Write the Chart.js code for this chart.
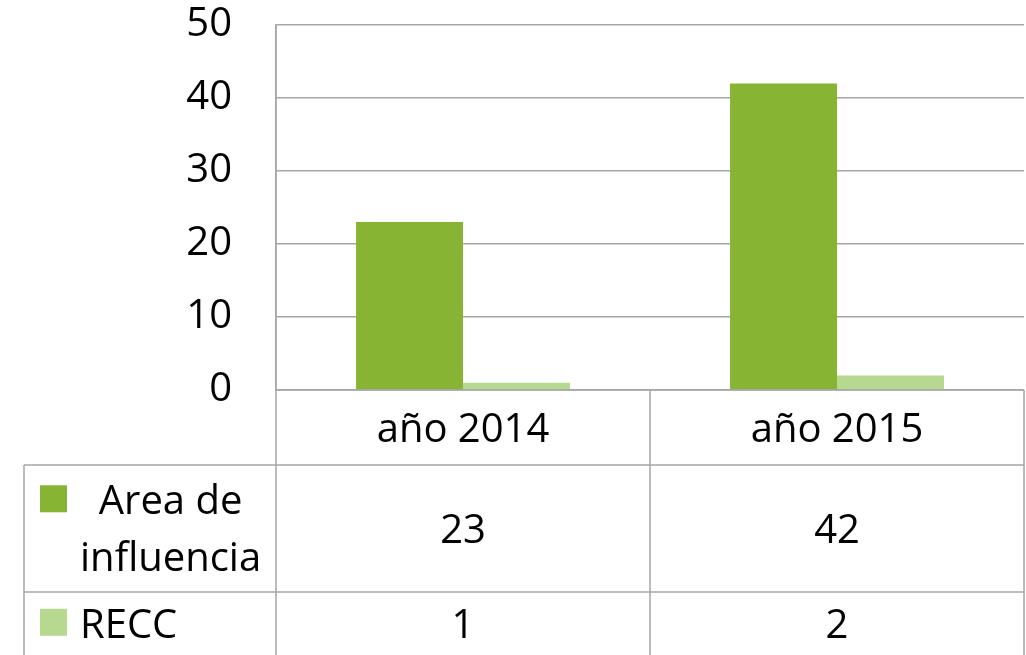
<!DOCTYPE html>
<html><head><meta charset="utf-8">
<script src="https://cdn.jsdelivr.net/npm/chart.js"></script>
<style>html,body{margin:0;padding:0;background:#fff;overflow:hidden}#wrap{width:1026px;height:655px;position:relative}</style>
</head><body><div id="wrap"><canvas id="c" width="1026" height="655"></canvas></div>
<script>
const categories = ['año 2014', 'año 2015'];
const seriesLabels = [['Area de', 'influencia'], ['RECC']];
const areaValues = [23, 42];
const reccValues = [1, 2];
const yMin = 0, yMax = 50, yStep = 10;

const GREEN = '#87b433';
const LIGHT = '#b7d88f';
const GRID = '#a6a6a6';
const FONT = '"Open Sans", "DejaVu Sans", sans-serif';
const FS = 40;

const tablePlugin = {
  id: 'dataTable',
  afterDraw(chart) {
    const ctx = chart.ctx;
    const x = chart.scales.x;
    const area = chart.chartArea;
    const catW = x.getPixelForValue(1) - x.getPixelForValue(0);
    const tLeft = area.left, tRight = area.right;
    const legLeft = 24;
    const rowTops = [area.bottom, 465, 592, 655];
    ctx.save();
    ctx.strokeStyle = GRID;
    ctx.lineWidth = 1.5;
    const line = (x1, y1, x2, y2) => { ctx.beginPath(); ctx.moveTo(x1, y1); ctx.lineTo(x2, y2); ctx.stroke(); };
    line(tLeft, rowTops[0], tRight, rowTops[0]);
    line(legLeft, rowTops[1], tRight, rowTops[1]);
    line(legLeft, rowTops[2], tRight, rowTops[2]);
    line(legLeft, rowTops[1], legLeft, 655);
    line(tLeft, area.top, tLeft, 655);
    categories.forEach((c, i) => {
      const r = x.getPixelForValue(i) + catW / 2;
      line(r, rowTops[0], r, 655);
    });
    ctx.fillStyle = '#000';
    ctx.font = FS + 'px ' + FONT;
    ctx.textBaseline = 'alphabetic';
    const cap = 0.714 * FS;
    const baseOf = (r) => (rowTops[r] + rowTops[r + 1]) / 2 + cap / 2;
    ctx.textAlign = 'center';
    categories.forEach((c, i) => {
      const cx = x.getPixelForValue(i);
      ctx.fillText(c, cx, baseOf(0));
      ctx.fillText(String(areaValues[i]), cx, baseOf(1));
      ctx.fillText(String(reccValues[i]), cx, baseOf(2));
    });
    const colors = [GREEN, LIGHT];
    const lh = 57;
    seriesLabels.forEach((lines, s) => {
      const r = s + 1;
      const n = lines.length;
      const first = baseOf(r) - (n - 1) * lh / 2;
      const widths = lines.map(t => ctx.measureText(t).width);
      const bw = Math.max(...widths);
      const bx = 80;
      ctx.textAlign = 'center';
      lines.forEach((t, k) => ctx.fillText(t, bx + bw / 2, first + k * lh));
      ctx.fillStyle = colors[s];
      ctx.fillRect(40, first - 29, 27, 27);
      ctx.fillStyle = '#000';
    });
    ctx.restore();
  }
};

new Chart(document.getElementById('c'), {
  type: 'bar',
  data: {
    labels: categories,
    datasets: [
      { label: seriesLabels[0].join(' '), data: areaValues, backgroundColor: GREEN, borderWidth: 0 },
      { label: seriesLabels[1].join(' '), data: reccValues, backgroundColor: LIGHT, borderWidth: 0 }
    ]
  },
  options: {
    responsive: false,
    devicePixelRatio: 1,
    animation: false,
    layout: { padding: { top: 25, bottom: 265, left: 0, right: 2 } },
    datasets: { bar: { categoryPercentage: 0.572, barPercentage: 1.0 } },
    plugins: { legend: { display: false }, tooltip: { enabled: false } },
    scales: {
      x: { display: false, offset: true, grid: { display: false } },
      y: {
        min: yMin, max: yMax,
        afterFit(scale) { scale.width = 276; scale.paddingTop = 0; scale.paddingBottom = 0; },
        ticks: { stepSize: yStep, padding: 44, color: '#000', font: { family: FONT, size: FS } },
        grid: { color: GRID, lineWidth: 1.5, drawTicks: false },
        border: { display: true, color: GRID, width: 1.5 }
      }
    }
  },
  plugins: [tablePlugin]
});
</script>
</body></html>
